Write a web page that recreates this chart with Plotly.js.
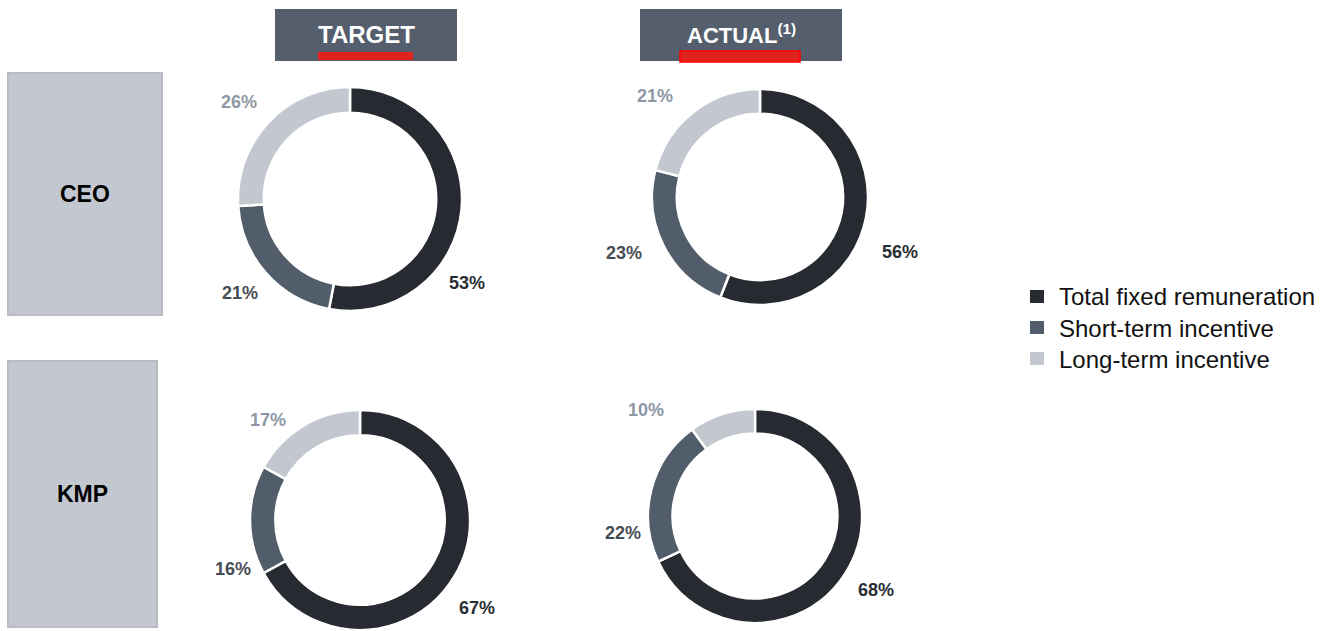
<!DOCTYPE html>
<html>
<head>
<meta charset="utf-8">
<script src="https://cdn.plot.ly/plotly-3.0.1.min.js"></script>
<style>html,body{margin:0;padding:0;background:#fff;}#chart{width:1331px;height:631px;}</style>
</head>
<body>
<div id="chart"></div>
<script>
// ---- Data ----
const categories = ['Total fixed remuneration', 'Short-term incentive', 'Long-term incentive'];
const columnLabels = ['TARGET', 'ACTUAL<sup>(1)</sup>'];
const rowLabels = ['CEO', 'KMP'];
const ceoTarget = [53, 21, 26];
const ceoActual = [56, 23, 21];
const kmpTarget = [67, 16, 17];
const kmpActual = [68, 22, 10];

// ---- Layout helpers ----
const W = 1331, H = 631;
const px = x => x / W;
const py = y => 1 - y / H;
const FONT = '"Liberation Sans", Arial, sans-serif';
const sliceColors = ['#272b31', '#525d6b', '#c3c8d0'];
const labelColors = ['#2a2e34', '#474d55', '#8e97a5'];

// donut geometry (center x, center y, radius) in pixels, label anchor points
const donuts = [
  {vals: ceoTarget, cx: 350, cy: 199, r: 112, lab: [[467, 283], [240, 293], [239, 102]]},
  {vals: ceoActual, cx: 760, cy: 197, r: 108, lab: [[900, 252], [624, 253], [655, 96]]},
  {vals: kmpTarget, cx: 360, cy: 520, r: 110, lab: [[477, 608], [233, 569], [268, 420]]},
  {vals: kmpActual, cx: 755, cy: 516, r: 107, lab: [[876, 590], [623, 533], [646, 410]]}
];

const traces = donuts.map(d => ({
  type: 'pie',
  labels: categories,
  values: d.vals,
  sort: false,
  direction: 'clockwise',
  rotation: 0,
  hole: 0.77,
  textinfo: 'none',
  hoverinfo: 'label+percent',
  showlegend: false,
  marker: {colors: sliceColors, line: {color: '#ffffff', width: 2.5}},
  domain: {
    x: [Math.max(0, px(d.cx - d.r)), Math.min(1, px(d.cx + d.r))],
    y: [Math.max(0, py(d.cy + d.r)), Math.min(1, py(d.cy - d.r))]
  }
}));

const annotations = [];
donuts.forEach(d => {
  d.vals.forEach((v, i) => {
    annotations.push({
      xref: 'paper', yref: 'paper', x: px(d.lab[i][0]), y: py(d.lab[i][1]),
      text: '<b>' + v + '%</b>', showarrow: false, xanchor: 'center', yanchor: 'middle',
      font: {family: FONT, size: 18, color: labelColors[i]}
    });
  });
});

// header boxes
const headers = [
  {x0: 275, x1: 457, bar: [318, 413, 52, 60], text: columnLabels[0], tx: 366, size: 24, barLine: null},
  {x0: 640, x1: 842, bar: [680, 800, 51, 62], text: columnLabels[1], tx: 741, size: 22, barLine: '#ff0000'}
];
const shapes = [];
headers.forEach(h => {
  shapes.push({type: 'rect', xref: 'paper', yref: 'paper', x0: px(h.x0), x1: px(h.x1), y0: py(61), y1: py(9),
    fillcolor: '#545e6c', line: {width: 0}, layer: 'below'});
  shapes.push({type: 'rect', xref: 'paper', yref: 'paper', x0: px(h.bar[0]), x1: px(h.bar[1]), y0: py(h.bar[3]), y1: py(h.bar[2]),
    fillcolor: '#e0221c', line: h.barLine ? {color: h.barLine, width: 1.5} : {width: 0}, layer: 'below'});
  annotations.push({xref: 'paper', yref: 'paper', x: px(h.tx), y: py(34), text: '<b>' + h.text + '</b>',
    showarrow: false, xanchor: 'center', yanchor: 'middle',
    font: {family: FONT, size: h.size, color: '#ffffff'}});
});

// row boxes
const rows = [
  {x0: 8, x1: 162, y0: 73, y1: 315, text: rowLabels[0]},
  {x0: 8, x1: 157, y0: 361, y1: 627, text: rowLabels[1]}
];
rows.forEach(r => {
  shapes.push({type: 'rect', xref: 'paper', yref: 'paper', x0: px(r.x0), x1: px(r.x1), y0: py(r.y1), y1: py(r.y0),
    fillcolor: '#c3c8d0', line: {color: '#b9bdc3', width: 2}, layer: 'below'});
  annotations.push({xref: 'paper', yref: 'paper', x: px((r.x0 + r.x1) / 2), y: py((r.y0 + r.y1) / 2),
    text: '<b>' + r.text + '</b>', showarrow: false, xanchor: 'center', yanchor: 'middle',
    font: {family: FONT, size: 23, color: '#000000'}});
});

// legend (drawn from categories and slice colours)
const legendRowsY = [296, 327, 358];
categories.forEach((c, i) => {
  const yc = legendRowsY[i];
  shapes.push({type: 'rect', xref: 'paper', yref: 'paper', x0: px(1030), x1: px(1044), y0: py(yc + 7), y1: py(yc - 6),
    fillcolor: sliceColors[i], line: {width: 0}});
  annotations.push({xref: 'paper', yref: 'paper', x: px(1057), y: py(yc + 1), text: c,
    showarrow: false, xanchor: 'left', yanchor: 'middle',
    font: {family: FONT, size: 24, color: '#111111'}});
});

const layout = {
  width: W, height: H,
  margin: {l: 0, r: 0, t: 0, b: 0},
  paper_bgcolor: '#ffffff', plot_bgcolor: '#ffffff',
  font: {family: FONT},
  showlegend: false,
  shapes: shapes,
  annotations: annotations
};

Plotly.newPlot('chart', traces, layout, {displayModeBar: false, staticPlot: true});
</script>
</body>
</html>
